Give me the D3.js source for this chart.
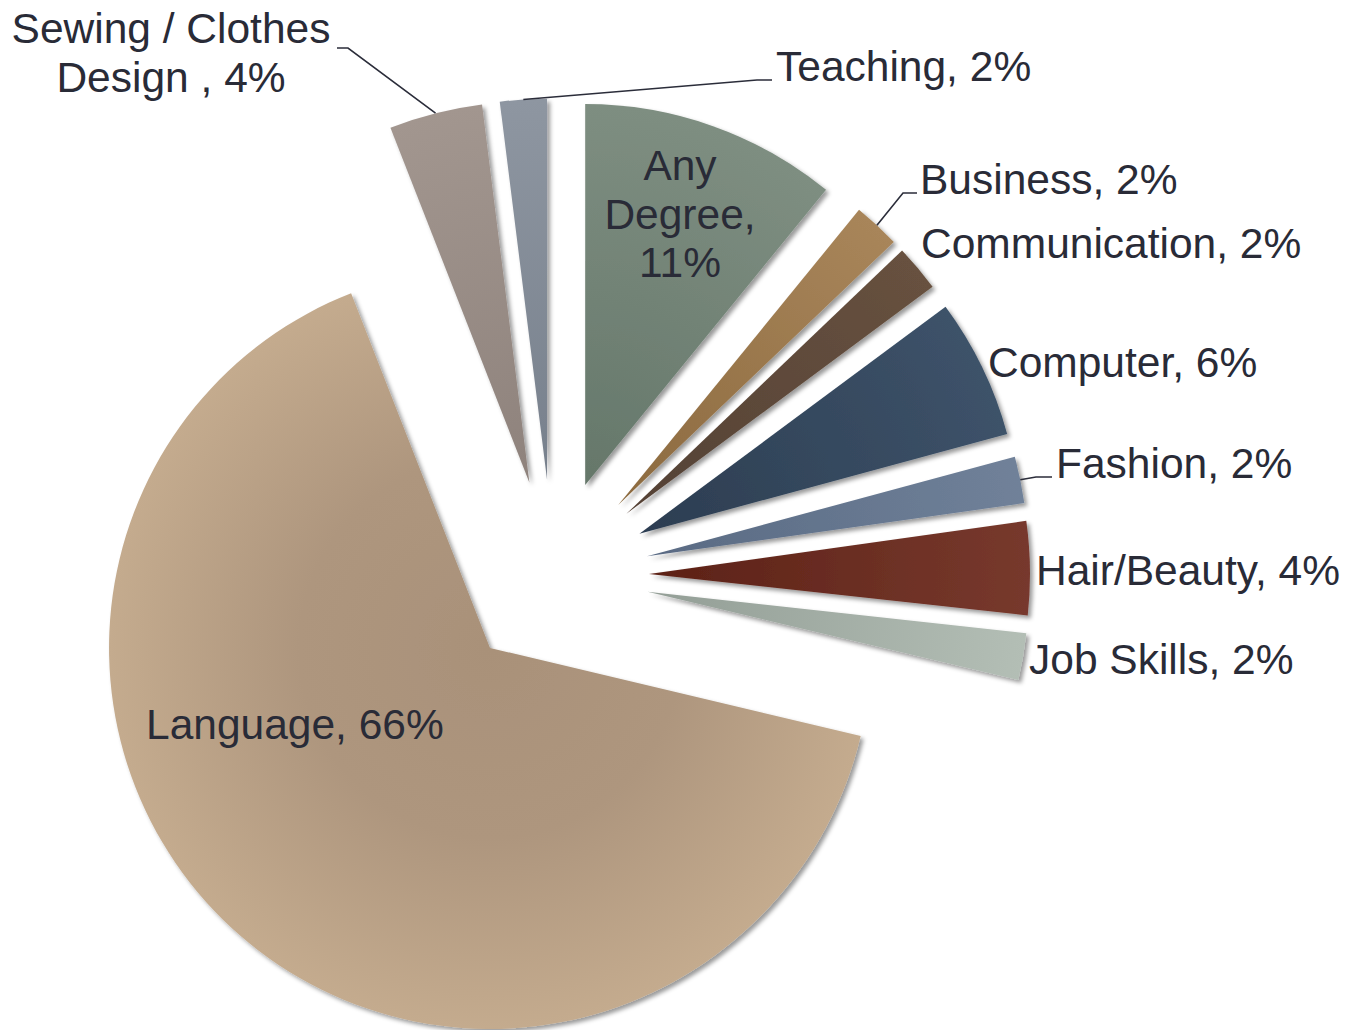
<!DOCTYPE html>
<html>
<head>
<meta charset="utf-8">
<script src="https://cdn.jsdelivr.net/npm/d3@7"></script>
<style>
  html, body { margin: 0; padding: 0; background: #fff; }
  svg { display: block; }
  text { font-family: "Liberation Sans", Arial, sans-serif; font-size: 42.5px; fill: #292b37; }
</style>
</head>
<body>
<svg id="chart" width="1346" height="1030"></svg>
<script>
// ---- data ----
const categories = ["Any Degree", "Business", "Communication", "Computer", "Fashion",
                    "Hair/Beauty", "Job Skills", "Language", "Sewing / Clothes Design ", "Teaching"];
const values = [11, 2, 2, 6, 2, 4, 2, 66, 4, 2];
const labelTexts = [["Any", "Degree,", "11%"], ["Business, 2%"], ["Communication, 2%"], ["Computer, 6%"],
                    ["Fashion, 2%"], ["Hair/Beauty, 4%"], ["Job Skills, 2%"], ["Language, 66%"],
                    ["Sewing / Clothes", "Design , 4%"], ["Teaching, 2%"]];

// ---- styles / layout ----
const innerColors = ["#65776a", "#8c6a3f", "#544135", "#2c3d51", "#596a83", "#5c2116", "#939e96", "#a99179", "#8e827c", "#77808c"];
const outerColors = ["#7e8e81", "#a8855a", "#67513f", "#3d5269", "#708199", "#77392d", "#b3beb5", "#c4ab8e", "#a2968f", "#8e96a1"];
const center = [553, 575.5];
const R = 381;
const explode = 96;

// label layout: [x, y baseline of first line, anchor, line height]
const labelLayout = [
  [680, 180, "middle", 48.5],
  [920, 194, "start", 0],
  [921, 258, "start", 0],
  [988, 377, "start", 0],
  [1056, 478, "start", 0],
  [1036, 585, "start", 0],
  [1029, 674, "start", 0],
  [146, 739, "start", 0],
  [171, 43, "middle", 49],
  [776, 81, "start", 0]
];
// leader elbows (from slice rim midpoint -> elbow -> end), null = no leader
const leaders = [null, [[903, 193], [917, 193]], null, null, [[1036, 477], [1052, 477]], null, null, null,
                 [[348, 48], [337, 48]], [[757, 80], [772, 80]]];

const svg = d3.select("#chart");
const defs = svg.append("defs");

const filt = defs.append("filter").attr("id", "shadow")
  .attr("x", "-20%").attr("y", "-20%").attr("width", "140%").attr("height", "140%");
filt.append("feDropShadow").attr("dx", 3).attr("dy", 3).attr("stdDeviation", 2)
  .attr("flood-color", "#000").attr("flood-opacity", 0.4);

const pie = d3.pie().sort(null).value(d => d).startAngle(0).endAngle(2 * Math.PI);
const arcs = pie(values);
const arcGen = d3.arc().innerRadius(0).outerRadius(R);

arcs.forEach((a, i) => {
  const g = defs.append("radialGradient").attr("id", "grad" + i)
    .attr("gradientUnits", "userSpaceOnUse").attr("cx", 0).attr("cy", 0).attr("r", R);
  if (i === 7) {
    g.append("stop").attr("offset", "0%").attr("stop-color", innerColors[i]);
    g.append("stop").attr("offset", "50%").attr("stop-color", "#ae967e");
    g.append("stop").attr("offset", "100%").attr("stop-color", outerColors[i]);
  } else {
    g.append("stop").attr("offset", "0%").attr("stop-color", innerColors[i]);
    g.append("stop").attr("offset", "100%").attr("stop-color", outerColors[i]);
  }
});

const apex = a => {
  const m = (a.startAngle + a.endAngle) / 2;
  return [center[0] + explode * Math.sin(m), center[1] - explode * Math.cos(m)];
};

const slices = svg.append("g");
arcs.forEach((a, i) => {
  const p = apex(a);
  slices.append("g").attr("transform", `translate(${p[0]},${p[1]})`)
    .append("path").attr("d", arcGen(a))
    .attr("fill", `url(#grad${i})`)
    .attr("filter", "url(#shadow)");
});

// leaders
const lineGen = d3.line();
arcs.forEach((a, i) => {
  if (!leaders[i]) return;
  const p = apex(a);
  const m = (a.startAngle + a.endAngle) / 2;
  const start = [p[0] + R * Math.sin(m), p[1] - R * Math.cos(m)];
  svg.append("path").attr("d", lineGen([start, ...leaders[i]]))
    .attr("fill", "none").attr("stroke", "#2b2d3a").attr("stroke-width", 1.6);
});

// labels
arcs.forEach((a, i) => {
  const [x, y, anchor, lh] = labelLayout[i];
  const t = svg.append("text").attr("x", x).attr("y", y).attr("text-anchor", anchor);
  labelTexts[i].forEach((line, k) => {
    t.append("tspan").attr("x", x).attr("y", y + k * lh).text(line);
  });
});
</script>
</body>
</html>
